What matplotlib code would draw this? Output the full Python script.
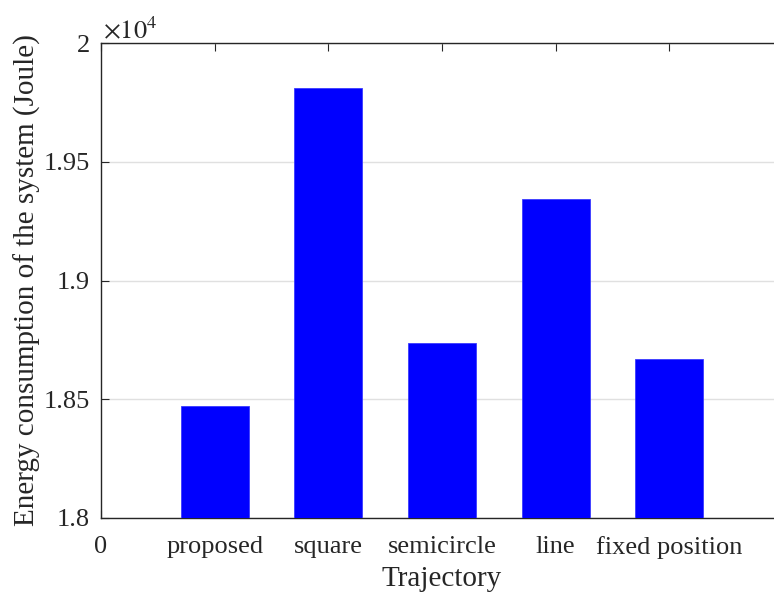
import matplotlib
matplotlib.use("Agg")
import matplotlib.pyplot as plt
from matplotlib.ticker import FuncFormatter

categories = ["proposed", "square", "semicircle", "line", "fixed position"]
energy = [18472, 19811, 18737, 19343, 18669]
ytick_values = [18000, 18500, 19000, 19500, 20000]

plt.rcParams["font.family"] = ["Liberation Serif", "DejaVu Serif"]
plt.rcParams["mathtext.fontset"] = "stix"

W, H = 774, 593
fig = plt.figure(figsize=(W / 100, H / 100), dpi=100)
left, right, top, bottom = 101, 783, 43, 518
ax = fig.add_axes([left / W, 1 - bottom / H, (right - left) / W, (bottom - top) / H])

axcol = "#262626"
positions = list(range(1, len(categories) + 1))
ax.bar(positions, energy, width=0.6, color="#0000ff", edgecolor="#3a3aff", linewidth=0.6, zorder=3)

ax.set_xlim(0, 6)
ax.set_ylim(18000, 20000)
ax.set_xticks([0] + positions)
ax.set_xticklabels(["0"] + categories)
ax.set_yticks(ytick_values)
ax.yaxis.set_major_formatter(FuncFormatter(lambda v, p: "%g" % (v / 1e4)))

ax.yaxis.grid(True, color="#e0e0e0", linewidth=1.0, zorder=0)
ax.set_axisbelow(True)

for s in ax.spines.values():
    s.set_color(axcol)
    s.set_linewidth(1.0)
ax.spines["right"].set_visible(False)

ax.tick_params(axis="both", direction="in", length=6, width=0.8, color=axcol,
               labelsize=19, labelcolor=axcol, top=True, right=False)
ax.tick_params(axis="x", pad=13)
ax.tick_params(axis="y", pad=8)

ax.set_xlabel("Trajectory", fontsize=21, color=axcol, labelpad=5)
ax.set_ylabel("Energy consumption of the system (Joule)", fontsize=21, color=axcol, labelpad=2)

fig.text(103 / W, 1 - 38 / H, r"$\times10^{4}$", fontsize=19, color=axcol, ha="left", va="baseline")

fig.savefig("out.png", dpi=100)
